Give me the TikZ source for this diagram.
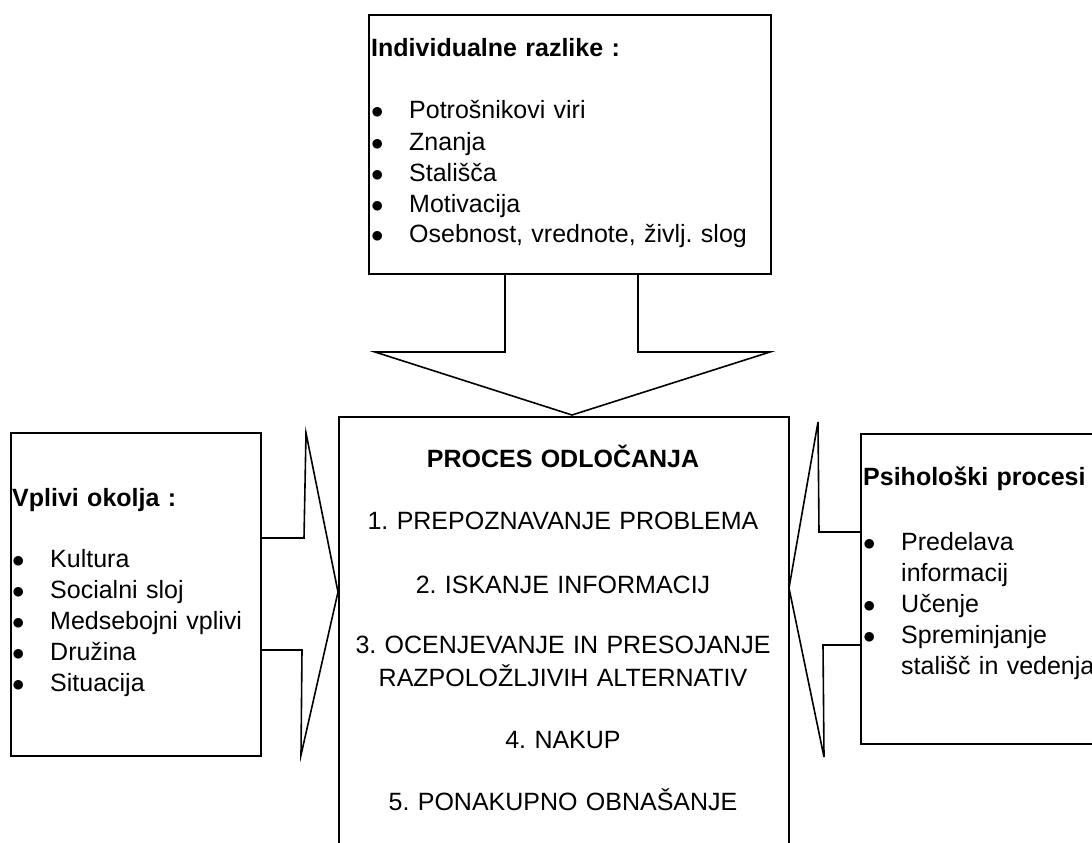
\documentclass[tikz,border=0pt]{standalone}
\usepackage{fontspec}
\setmainfont{Liberation Sans}
\usetikzlibrary{positioning}
\frenchspacing
\newcommand{\itm}{\makebox[38pt][l]{$\bullet$}}
\newcommand{\cont}{\hspace*{38pt}}

\begin{document}
\begin{tikzpicture}[x=1pt,y=-1pt,
  box/.style={draw,line width=1.6pt,inner sep=0pt,anchor=north west},
  blk/.style={draw,line width=1.6pt},
  txt/.style={align=left,text width=#1,inner sep=0pt,anchor=base west,font=\fontsize{25}{31}\selectfont},
  mid/.style={align=center,text width=440pt,inner sep=0pt,anchor=base,font=\fontsize{25}{33}\selectfont}]
\clip (0,0) rectangle (1092,843);
% boxes
\node[box,minimum width=402pt,minimum height=259pt] (indiv) at (368,14) {};
\node[box,minimum width=250pt,minimum height=323pt] (okolje) at (10,432) {};
\node[box,minimum width=450pt,minimum height=450pt] (proces) at (338,416) {};
\node[box,minimum width=250pt,minimum height=310pt] (psiho) at (860,433) {};
% block arrows
\draw[blk] (505,273) -- (505,352) -- (375,352) -- (572,415) -- (770,352) -- (638,352) -- (638,273);
\draw[blk] (260,538) -- (304,538) -- (306,433) -- (338,592) -- (301,755) -- (302,650) -- (260,650);
\draw[blk] (860,532) -- (819,532) -- (818,422) -- (789,588) -- (824,757) -- (823,645) -- (860,645);
% texts
\node[txt=390pt] (indivtxt) at (371,57) {\textbf{Individualne razlike :}\\[31pt]
  \itm Potrošnikovi viri\\ \itm Znanja\\ \itm Stališča\\ \itm Motivacija\\
  \itm Osebnost, vrednote, življ. slog};
\node[txt=245pt] (okoljetxt) at (12,506) {\textbf{Vplivi okolja :}\\[30pt]
  \itm Kultura\\ \itm Socialni sloj\\ \itm Medsebojni vplivi\\ \itm Družina\\
  \itm Situacija};
\node[txt=300pt] (psihotxt) at (863,485) {\textbf{Psihološki procesi :}\\[34pt]
  \itm Predelava\\ \cont informacij\\ \itm Učenje\\ \itm Spreminjanje\\
  \cont stališč in vedenja};
\node[mid] (procestxt) at (563,467) {\textbf{PROCES ODLOČANJA}\\[29pt]
  1. PREPOZNAVANJE PROBLEMA\\[31pt]
  2. ISKANJE INFORMACIJ\\[27pt]
  3. OCENJEVANJE IN PRESOJANJE\\ RAZPOLOŽLJIVIH ALTERNATIV\\[29pt]
  4. NAKUP\\[29pt]
  5. PONAKUPNO OBNAŠANJE};
\end{tikzpicture}
\end{document}
